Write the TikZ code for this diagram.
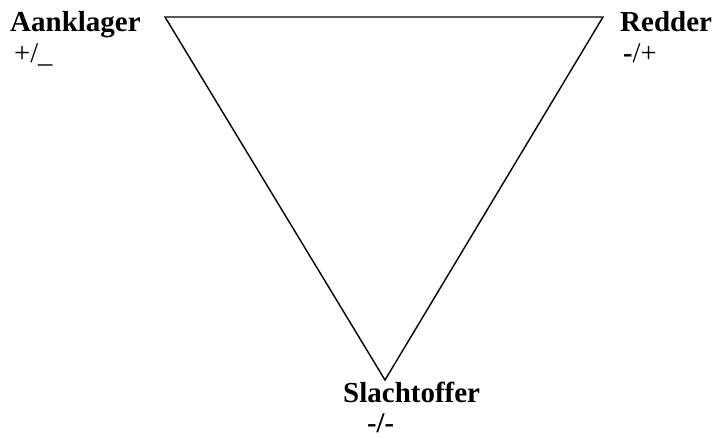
\documentclass[tikz,border=0pt]{standalone}
\usepackage{fontspec}
\setmainfont{Liberation Serif}
\begin{document}
\begin{tikzpicture}[x=1pt,y=-1pt,
  lbl/.style={anchor=base west,inner sep=0pt,font=\fontsize{29}{33}\selectfont\bfseries},
  sgn/.style={anchor=base west,inner sep=0pt,font=\fontsize{28.5}{32}\selectfont},
  edge/.style={line width=1.4pt,line join=miter}]
\useasboundingbox (0,0) rectangle (715,437);
\coordinate (tl) at (165,17);
\coordinate (tr) at (603,17);
\coordinate (bt) at (385,380);
\draw[edge] (tl) -- (tr) -- (bt) -- cycle;
\node[lbl] (a) at (10,31) {Aanklager};
\node[sgn] (as) at (14,62) {+/\_};
\node[lbl] (r) at (620,31) {Redder};
\node[sgn] (rs) at (623,62) {\textbf{-}/+};
\node[lbl] (s) at (343,402) {Slachtoffer};
\node[sgn] (ss) at (367,432) {\textbf{-/-}};
\end{tikzpicture}
\end{document}
